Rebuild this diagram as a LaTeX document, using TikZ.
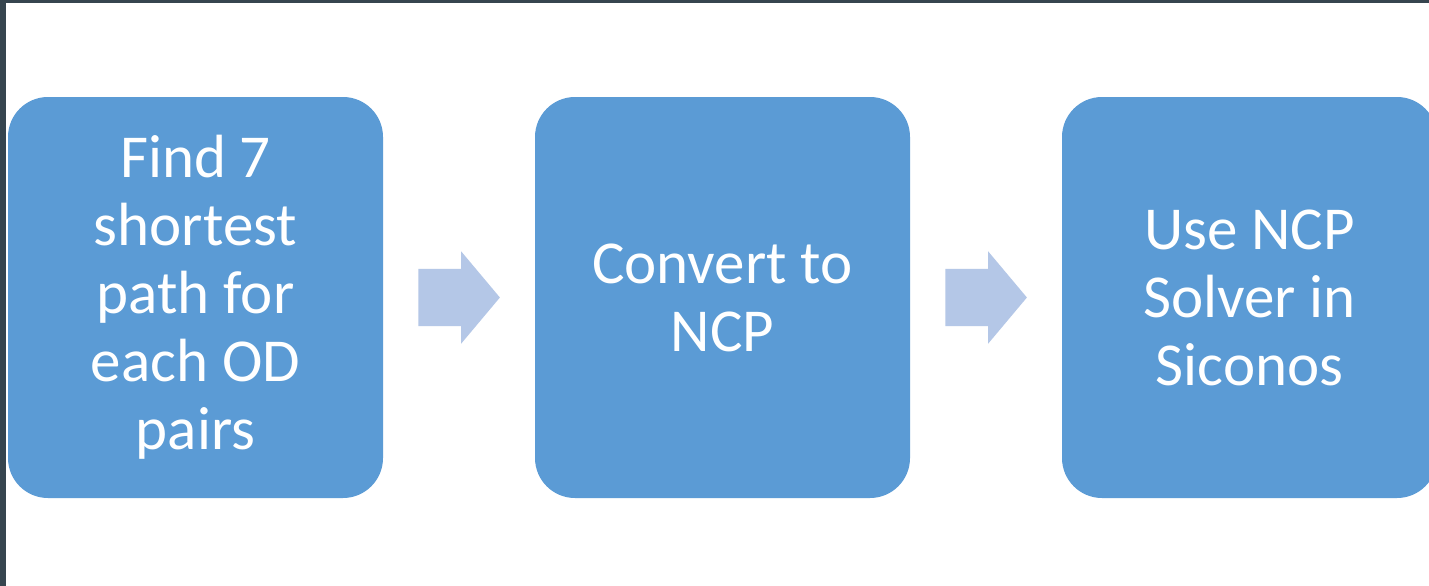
\documentclass[tikz,border=0pt]{standalone}
\usepackage{fontspec}
\setmainfont{Carlito}
\usetikzlibrary{positioning,shapes.arrows,calc}

\definecolor{frame}{HTML}{36454F}
\definecolor{stepblue}{HTML}{5B9BD5}
\definecolor{arrowblue}{HTML}{B4C7E7}

\tikzset{
    stepbox/.style={rectangle, rounded corners=40pt, fill=stepblue, text=white,
        minimum width=375pt, minimum height=401pt, align=center,
        font=\fontsize{61}{68}\selectfont},
    flowarrow/.style={single arrow, fill=arrowblue, draw=none, inner sep=28.5pt,
        minimum height=80pt, single arrow head extend=17.5pt,
        single arrow tip angle=100, anchor=tail}
}

\begin{document}
\begin{tikzpicture}[x=1pt, y=-1pt]
    \useasboundingbox (0,0) rectangle (1429,586);
    \fill [frame] (0,0) rectangle (1429,586);
    \fill [white] (6,3) rectangle (1429,586);

    \begin{scope}
        \clip (6,3) rectangle (1429,586);
        \node [stepbox] (find) at (195.5,297.5) {Find 7\\shortest\\path for\\each OD\\pairs};
        \node [stepbox] (convert) at (722.5,297.5) {Convert to\\NCP};
        \node [stepbox] (solve) at (1249.5,297.5) {Use NCP\\Solver in\\Siconos};
    \end{scope}

    \node [flowarrow] (a1) at ($(find.east)+(35,0)$) {};
    \node [flowarrow] (a2) at ($(convert.east)+(35,0)$) {};
\end{tikzpicture}
\end{document}
